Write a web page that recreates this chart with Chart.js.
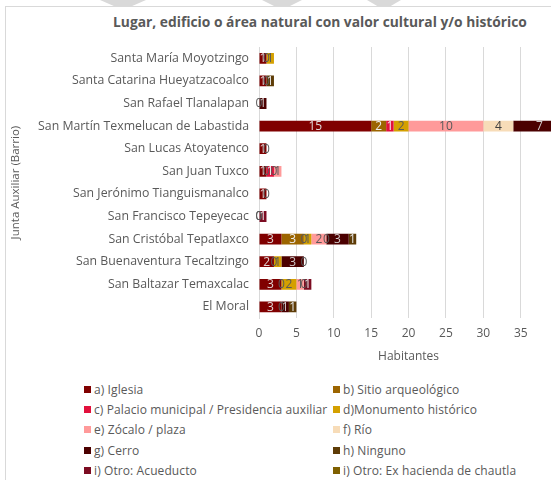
<!DOCTYPE html>
<html>
<head>
<meta charset="utf-8">
<script src="https://cdn.jsdelivr.net/npm/chart.js@4"></script>
<style>
  html, body { margin: 0; padding: 0; width: 551px; height: 480px; overflow: hidden; background: #fff; }
  body { position: relative; font-family: "Open Sans", sans-serif; color: #595959; }
  #frame { position: absolute; left: 5px; top: 6px; width: 600px; height: 500px; border-left: 1px solid #d9d9d9; border-top: 1px solid #d9d9d9; }
  .deco { position: absolute; top: 0; height: 6px; background: #d9d9d9; }
  #title { position: absolute; left: 0; top: 12px; width: 640px; text-align: center; font-size: 13.8px; font-weight: bold; color: #595959; white-space: nowrap; }
  #c { position: absolute; left: 0; top: 0; }
  .leg { position: absolute; font-size: 12px; letter-spacing: 0.1px; white-space: nowrap; line-height: 14px; }
  .leg i { display: inline-block; width: 7px; height: 7px; margin-right: 3px; vertical-align: 1px; }
</style>
</head>
<body>
<div id="frame"></div>
<div class="deco" style="left:100px;width:46px;clip-path:polygon(0 0,100% 0,70% 100%,30% 100%)"></div>
<div class="deco" style="left:262px;width:40px;clip-path:polygon(0 0,100% 0,70% 100%,30% 100%)"></div>
<div class="deco" style="left:367px;width:34px;clip-path:polygon(0 0,100% 0,70% 100%,30% 100%)"></div>
<div id="title">Lugar, edificio o área natural con valor cultural y/o histórico</div>
<canvas id="c" width="573" height="372"></canvas>
<div id="legend"></div>
<script>
// Juntas auxiliares, top to bottom
const categories = [
    'Santa María Moyotzingo',
    'Santa Catarina Hueyatzacoalco',
    'San Rafael Tlanalapan',
    'San Martín Texmelucan de Labastida',
    'San Lucas Atoyatenco',
    'San Juan Tuxco',
    'San Jerónimo Tianguismanalco',
    'San Francisco Tepeyecac',
    'San Cristóbal Tepatlaxco',
    'San Buenaventura Tecaltzingo',
    'San Baltazar Temaxcalac',
    'El Moral'
];

const seriesNames = [
    'a) Iglesia', 'b) Sitio arqueológico',
    'c) Palacio municipal / Presidencia auxiliar', 'd)Monumento histórico',
    'e) Zócalo / plaza', 'f) Río',
    'g) Cerro', 'h) Ninguno',
    'i) Otro: Acueducto', 'i) Otro: Ex hacienda de chautla'
];

const iglesia    = [1, 1, 0, 15, 1, 1, 1, 0, 3, 2, 3, 3];
const sitio      = [0, 0, null, 2, 0, 0, 0, 0, 3, 0, 0, 0];
const palacio    = [null, null, null, 1, null, 1, null, null, 0, null, null, null];
const monumento  = [1, null, null, 2, null, 0, null, null, 1, 1, 2, null];
const zocalo     = [null, null, null, 10, null, 1, null, null, 2, null, 1, null];
const rio        = [null, null, null, 4, null, null, null, null, 0, null, 0, null];
const cerro      = [null, null, 1, 7, null, null, null, null, 3, 3, null, 1];
const ninguno    = [null, 1, null, null, null, null, null, null, 1, 0, null, 1];
const acueducto  = [null, null, null, null, null, null, null, 1, null, null, 1, null];
const hacienda   = [null, null, null, null, null, null, null, null, null, null, null, null];

const seriesValues = [iglesia, sitio, palacio, monumento, zocalo, rio, cerro, ninguno, acueducto, hacienda];
const seriesColors = ['#800000', '#9c6500', '#e2103c', '#d4a000', '#ff9a9a', '#f7dcb8', '#4b0000', '#5e3c07', '#7c0c22', '#7f6000'];
const labelColors  = ['#e0d6d6', '#eeeeee', '#f2f2f2', '#595959', '#595959', '#404040', '#d0c8c8', '#e6e6e6', '#e6e6e6', '#e6e6e6'];

const xTicks = [0, 5, 10, 15, 20, 25, 30, 35, 40];

// value labels in the middle of each segment (zeros too)
const segmentLabels = {
    id: 'segmentLabels',
    afterDatasetsDraw(chart) {
        const ctx = chart.ctx;
        ctx.save();
        ctx.font = '12px "Open Sans"';
        ctx.textAlign = 'center';
        ctx.textBaseline = 'middle';
        chart.data.datasets.forEach((ds, i) => {
            const meta = chart.getDatasetMeta(i);
            meta.data.forEach((el, j) => {
                const v = ds.data[j];
                if (v === null || v === undefined) return;
                const x = (el.x + el.base) / 2;
                ctx.fillStyle = v === 0 ? '#595959' : labelColors[i];
                ctx.fillText(String(v), x, el.y + 0.5);
            });
        });
        ctx.restore();
    }
};

new Chart(document.getElementById('c'), {
    type: 'bar',
    data: {
        labels: categories,
        datasets: seriesNames.map((name, i) => ({
            label: name,
            data: seriesValues[i],
            backgroundColor: seriesColors[i],
            borderWidth: 0,
            barPercentage: 0.48,
            categoryPercentage: 1
        }))
    },
    options: {
        indexAxis: 'y',
        responsive: false,
        animation: false,
        layout: { padding: { top: 47, left: 5, right: 0, bottom: 4 } },
        plugins: {
            legend: { display: false },
            tooltip: { enabled: false }
        },
        scales: {
            x: {
                stacked: true,
                min: 0,
                max: 40,
                afterBuildTicks: s => { s.ticks = xTicks.map(v => ({ value: v })); },
                grid: { color: '#d9d9d9', drawTicks: false },
                border: { display: false },
                ticks: { color: '#595959', font: { family: 'Open Sans', size: 12 }, padding: 8 },
                title: { display: true, text: 'Habitantes', color: '#595959', font: { family: 'Open Sans', size: 12 }, padding: { top: 1 } }
            },
            y: {
                stacked: true,
                afterFit: s => { s.width = 254; },
                grid: { display: false, drawTicks: false },
                border: { color: '#d9d9d9' },
                ticks: { color: '#595959', font: { family: 'Open Sans', size: 12.3 }, padding: 10 },
                title: { display: true, text: 'Junta Auxiliar (Barrio)', color: '#595959', font: { family: 'Open Sans', size: 11.5 }, padding: { top: 4 } }
            }
        }
    },
    plugins: [segmentLabels]
});

// legend in two columns like the original
const legend = document.getElementById('legend');
seriesNames.forEach((name, i) => {
    const d = document.createElement('div');
    d.className = 'leg';
    d.style.left = (i % 2 === 0 ? 84 : 333) + 'px';
    d.style.top = (382.5 + Math.floor(i / 2) * 20.4) + 'px';
    d.innerHTML = '<i style="background:' + seriesColors[i] + '"></i>' + name;
    legend.appendChild(d);
});
</script>
</body>
</html>
